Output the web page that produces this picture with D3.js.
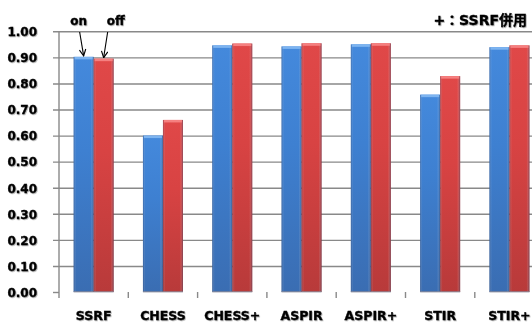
<!DOCTYPE html>
<html><head><meta charset="utf-8">
<script src="https://cdn.jsdelivr.net/npm/d3@7"></script>
<style>
html,body{margin:0;padding:0;background:#fff;}
svg{display:block;}
text{font-family:"DejaVu Sans","Noto Sans CJK JP",sans-serif;font-weight:bold;fill:#000;stroke:#000;stroke-width:0.35px;}
</style></head>
<body>
<svg id="chart" width="532" height="327"></svg>
<script>
const categories = ["SSRF","CHESS","CHESS+","ASPIR","ASPIR+","STIR","STIR+"];
const seriesNames = ["on","off"];
const onValues  = [0.902,0.600,0.946,0.942,0.950,0.757,0.939];
const offValues = [0.895,0.660,0.953,0.954,0.954,0.828,0.946];
const yTicks = [0,0.1,0.2,0.3,0.4,0.5,0.6,0.7,0.8,0.9,1.0];
const noteText = "+：SSRF併用";

(function(){
const svg = d3.select("#chart");
const defs = svg.append("defs");
function grad(id, c0, c1, c2){
  const g = defs.append("linearGradient").attr("id",id).attr("x1",0).attr("y1",0).attr("x2",0).attr("y2",1);
  g.append("stop").attr("offset","0%").attr("stop-color",c0);
  g.append("stop").attr("offset","40%").attr("stop-color",c1);
  g.append("stop").attr("offset","100%").attr("stop-color",c2);
}
function hgrad(id, edge, center){
  const g = defs.append("linearGradient").attr("id",id).attr("x1",0).attr("y1",0).attr("x2",1).attr("y2",0);
  g.append("stop").attr("offset","0%").attr("stop-color",edge).attr("stop-opacity",0.35);
  g.append("stop").attr("offset","12%").attr("stop-color",center).attr("stop-opacity",0);
  g.append("stop").attr("offset","85%").attr("stop-color",center).attr("stop-opacity",0);
  g.append("stop").attr("offset","100%").attr("stop-color",edge).attr("stop-opacity",0.45);
}
grad("gBlue","#4489dc","#3e80d1","#3a6db2");
grad("gRed","#e04848","#d84343","#b83a3a");
hgrad("hEdge","#1a2a50","#ffffff");
const f = defs.append("filter").attr("id","tshadow").attr("x","-20%").attr("y","-20%").attr("width","140%").attr("height","160%");
f.append("feDropShadow").attr("dx",0.8).attr("dy",0.8).attr("stdDeviation",0.6).attr("flood-color","#000").attr("flood-opacity",0.35);

const plotLeft = 59, step = 69.3;
const plotRight = plotLeft + step*categories.length;
const plotTop = 31.3, plotBottom = 292;

const x0 = d3.scaleBand().domain(categories).range([plotLeft,plotRight]).paddingInner(0.4227).paddingOuter(0.21135);
const x1 = d3.scaleBand().domain(seriesNames).range([0,x0.bandwidth()]);
const y = d3.scaleLinear().domain([0,1]).range([plotBottom,plotTop]);

// gridlines
const grid = svg.append("g").attr("transform",`translate(${plotLeft},0)`)
  .call(d3.axisLeft(y).tickValues(yTicks).tickSize(-(plotRight-plotLeft)).tickFormat(""));
grid.select(".domain").remove();
grid.selectAll(".tick line").attr("stroke","#898989").attr("stroke-width",1.4)
  .attr("x1",-6).attr("x2",plotRight-plotLeft);
grid.selectAll(".tick").filter(d=>d===0).select("line").attr("x2",0);

// y axis
const yAxis = svg.append("g").attr("transform",`translate(${plotLeft},0)`)
  .call(d3.axisLeft(y).tickValues(yTicks).tickFormat(d3.format(".2f")).tickSize(0).tickPadding(22));
yAxis.select(".domain").remove();
yAxis.selectAll("text").attr("font-size","12px").attr("dy","0.36em").attr("filter","url(#tshadow)")
  .style("font-family","'DejaVu Sans',sans-serif").style("font-weight","bold").attr("fill","#000");
svg.append("line").attr("x1",plotLeft).attr("x2",plotLeft).attr("y1",plotTop).attr("y2",plotBottom+6)
  .attr("stroke","#898989").attr("stroke-width",1.4);

// category boundary ticks
const bounds = categories.map(c=>x0(c) - x0.step()*x0.paddingOuter()).slice(1).concat([plotRight]);
svg.append("g").selectAll("line").data(bounds).join("line")
  .attr("x1",d=>d).attr("x2",d=>d).attr("y1",plotBottom).attr("y2",plotBottom+6)
  .attr("stroke","#898989").attr("stroke-width",1.4);

// bars
const data = categories.map((c,i)=>({cat:c, vals:[{s:"on",v:onValues[i]},{s:"off",v:offValues[i]}]}));
const groups = svg.append("g").selectAll("g").data(data).join("g")
  .attr("transform",d=>`translate(${x0(d.cat)},0)`);
const bars = groups.selectAll("g").data(d=>d.vals).join("g");
bars.append("rect")
  .attr("x",d=>x1(d.s)).attr("y",d=>y(d.v)).attr("width",x1.bandwidth()).attr("height",d=>plotBottom-y(d.v))
  .attr("fill",d=>d.s==="on"?"url(#gBlue)":"url(#gRed)");
bars.append("rect")
  .attr("x",d=>x1(d.s)).attr("y",d=>y(d.v)).attr("width",x1.bandwidth()).attr("height",d=>plotBottom-y(d.v))
  .attr("fill","url(#hEdge)");
bars.append("rect")
  .attr("x",d=>x1(d.s)+1).attr("y",d=>y(d.v)).attr("width",x1.bandwidth()-2).attr("height",2.5)
  .attr("fill",d=>d.s==="on"?"#7db4f0":"#f58080");
bars.append("rect")
  .attr("x",d=>x1(d.s)).attr("y",plotBottom-1).attr("width",x1.bandwidth()).attr("height",1.5)
  .attr("fill","#8a8a99").attr("opacity",0.7);

// category labels
svg.append("g").selectAll("text").data(categories).join("text")
  .attr("x",c=>x0(c)+x0.bandwidth()/2).attr("y",320).attr("text-anchor","middle")
  .attr("font-size","12.5px").attr("filter","url(#tshadow)").text(c=>c);

// on / off annotations with arrows
const marker = defs.append("marker").attr("id","arr").attr("viewBox","0 0 10 10").attr("refX",9).attr("refY",5)
  .attr("markerWidth",8).attr("markerHeight",8).attr("orient","auto-start-reverse").attr("markerUnits","userSpaceOnUse");
marker.append("path").attr("d","M1,1 L9,5 L1,9").attr("fill","none").attr("stroke","#000").attr("stroke-width",1.4);
const first = categories[0];
const ann = [
  {s:"on", v:onValues[0], dx:-4, tx:-5},
  {s:"off", v:offValues[0], dx:4, tx:12}
];
ann.forEach(a=>{
  const ex = x0(first)+x1(a.s)+x1.bandwidth()/2;
  const ey = y(a.v)-1;
  svg.append("line").attr("x1",ex+a.dx).attr("y1",32).attr("x2",ex).attr("y2",ey)
    .attr("stroke","#000").attr("stroke-width",1.1).attr("marker-end","url(#arr)");
  svg.append("text").attr("x",ex+a.tx).attr("y",25).attr("text-anchor","middle")
    .attr("font-size","12px").attr("filter","url(#tshadow)").text(a.s);
});

// note
svg.append("text").attr("x",527).attr("y",25).attr("text-anchor","end")
  .attr("font-size","14px").attr("filter","url(#tshadow)").text(noteText);
})();
</script>
</body></html>
